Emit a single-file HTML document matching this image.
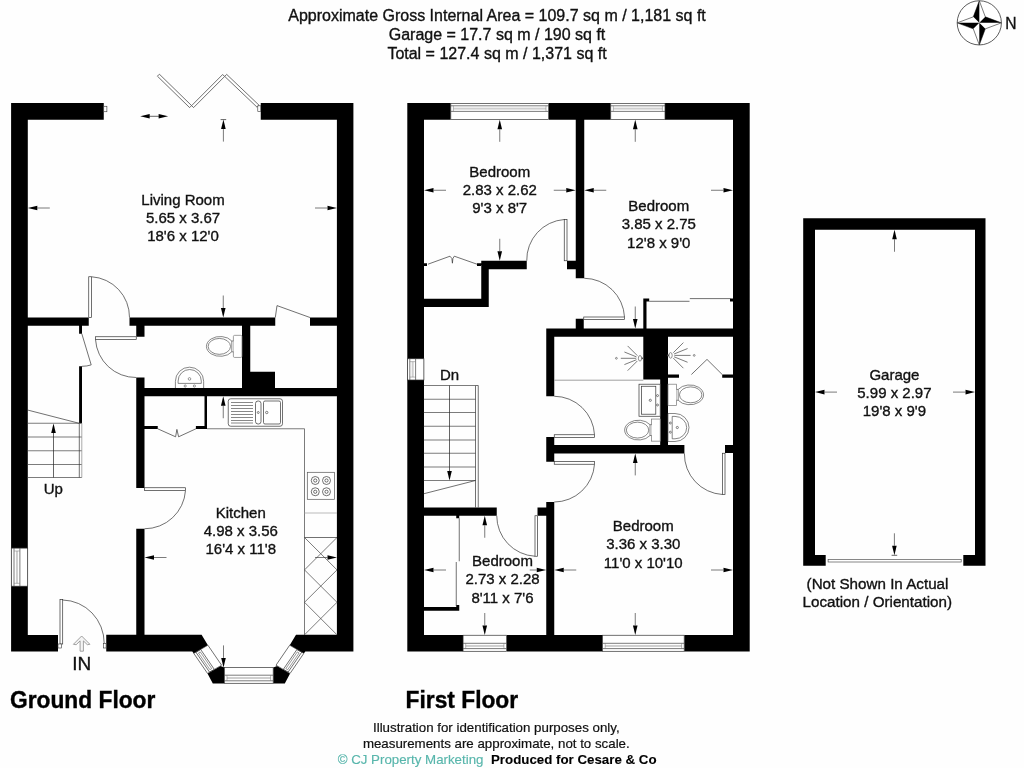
<!DOCTYPE html>
<html><head><meta charset="utf-8"><title>Floor plan</title>
<style>
html,body{margin:0;padding:0;background:#fff;}
body{width:1024px;height:768px;overflow:hidden;font-family:"Liberation Sans",sans-serif;}
svg{display:block;will-change:transform;}
svg text{font-family:"Liberation Sans",sans-serif;}
</style></head><body>
<svg width="1024" height="768" viewBox="0 0 1024 768">
<rect width="1024" height="768" fill="#fefefe"/>
<g id="header">
<text x="497.00" y="20.60" font-size="16" text-anchor="middle" font-weight="normal" fill="#111" stroke="#111" stroke-width="0.35">Approximate Gross Internal Area = 109.7 sq m / 1,181 sq ft</text>
<text x="497.00" y="39.60" font-size="16" text-anchor="middle" font-weight="normal" fill="#111" stroke="#111" stroke-width="0.35">Garage = 17.7 sq m / 190 sq ft</text>
<text x="497.00" y="59.10" font-size="16" text-anchor="middle" font-weight="normal" fill="#111" stroke="#111" stroke-width="0.35">Total = 127.4 sq m / 1,371 sq ft</text>
</g>
<g id="compass">
<circle cx="979.3" cy="22.85" r="22.1" fill="#fff" stroke="#333" stroke-width="0.8"/>
<polygon points="979.30,0.75 985.30,16.85 1001.40,22.85 985.30,28.85 979.30,44.95 973.30,28.85 957.20,22.85 973.30,16.85" fill="#fff" stroke="#222" stroke-width="0.6"/>
<polygon points="979.30,22.85 979.30,0.75 973.30,16.85" fill="#000"/>
<polygon points="979.30,22.85 1001.40,22.85 985.30,16.85" fill="#000"/>
<polygon points="979.30,22.85 979.30,44.95 985.30,28.85" fill="#000"/>
<polygon points="979.30,22.85 957.20,22.85 973.30,28.85" fill="#000"/>
<text x="1005.30" y="28.75" font-size="15.6" text-anchor="start" font-weight="normal" fill="#111" stroke="#111" stroke-width="0.35">N</text>
</g>
<g id="ground">
<path fill="#000" d="M11.10,103.10H103.75V119.80H11.10ZM11.10,103.10H27.80V651.50H11.10ZM260.75,103.10H353.40V119.80H260.75ZM336.90,103.10H353.40V651.50H336.90ZM11.10,634.90H58.00V651.50H11.10ZM106.25,634.80L201.60,634.80L207.90,645.20L193.80,653.40L192.25,651.50L106.25,651.50ZM353.25,651.50L305.35,651.50L303.80,653.40L289.70,645.20L296.00,634.80L353.25,634.80ZM220.40,665.90L224.40,667.40L224.40,683.60L212.80,683.60L207.50,673.40ZM290.10,673.40L284.80,683.60L273.20,683.60L273.20,667.40L277.20,665.90ZM27.50,317.50H88.75V325.75H27.50ZM129.50,317.50H275.25V325.75H129.50ZM310.00,317.50H337.00V325.75H310.00ZM79.10,325.75H82.00V333.80H79.10ZM79.10,366.20H82.00V423.25H79.10ZM136.25,325.75H144.50V336.75H136.25ZM136.25,377.50H144.50V488.00H136.25ZM136.25,528.75H144.50V634.80H136.25ZM136.25,388.00H337.00V396.25H136.25ZM242.00,325.75H250.25V388.50H242.00ZM249.00,371.75H275.00V388.50H249.00ZM204.50,396.25H207.00V428.75H204.50ZM144.50,426.00H157.75V429.00H144.50ZM195.90,426.00H207.00V429.00H195.90Z"/>
</g>
<g id="ground-details">
<rect x="11.30" y="548.10" width="16.40" height="38.10" fill="#fff" stroke="#333" stroke-width="0.7" rx="0"/>
<line x1="14.00" y1="548.10" x2="14.00" y2="586.20" stroke="#444" stroke-width="0.7"/>
<line x1="19.90" y1="548.10" x2="19.90" y2="586.20" stroke="#444" stroke-width="0.7"/>
<rect x="15.95" y="551.00" width="2.00" height="32.30" fill="#cfcfcf"/>
<line x1="14.00" y1="551.00" x2="19.90" y2="551.00" stroke="#777" stroke-width="0.5"/>
<line x1="14.00" y1="583.30" x2="19.90" y2="583.30" stroke="#777" stroke-width="0.5"/>
<polygon points="159.38,74.20 191.58,105.60 189.62,107.60 157.42,76.20" fill="#fff" stroke="#333" stroke-width="0.7"/>
<polygon points="191.61,105.61 222.66,74.51 224.64,76.49 193.59,107.59" fill="#fff" stroke="#333" stroke-width="0.7"/>
<polygon points="226.67,74.39 259.02,105.19 257.08,107.21 224.73,76.41" fill="#fff" stroke="#333" stroke-width="0.7"/>
<rect x="103.75" y="106.25" width="3.15" height="5.50" fill="#fff" stroke="#333" stroke-width="0.6" rx="0"/>
<rect x="257.80" y="105.80" width="2.95" height="5.70" fill="#fff" stroke="#333" stroke-width="0.6" rx="0"/>
<rect x="88.75" y="276.75" width="2.75" height="40.75" fill="#fff" stroke="#333" stroke-width="0.7" rx="0"/>
<path d="M91.5,276.75 A40.5,40.5 0 0 1 129.5,317.5" fill="none" stroke="#333" stroke-width="0.7"/>
<rect x="95.50" y="336.75" width="40.75" height="2.75" fill="#fff" stroke="#333" stroke-width="0.7" rx="0"/>
<path d="M95.5,339.5 A40.5,40.5 0 0 0 136.25,377.5" fill="none" stroke="#333" stroke-width="0.7"/>
<line x1="81.80" y1="333.70" x2="91.20" y2="364.90" stroke="#333" stroke-width="0.7"/>
<path d="M91.2,364.9 Q87,366.3 82,366.3" fill="none" stroke="#333" stroke-width="0.7"/>
<polyline points="275.30,317.50 277.00,305.60 310.00,317.50" fill="none" stroke="#333" stroke-width="0.7"/>
<polyline points="27.50,410.00 79.00,423.25" fill="none" stroke="#333" stroke-width="0.7"/>
<line x1="27.50" y1="423.25" x2="81.80" y2="423.25" stroke="#444" stroke-width="0.7"/>
<line x1="27.50" y1="437.00" x2="81.80" y2="437.00" stroke="#444" stroke-width="0.7"/>
<line x1="27.50" y1="450.75" x2="81.80" y2="450.75" stroke="#444" stroke-width="0.7"/>
<line x1="27.50" y1="464.50" x2="81.80" y2="464.50" stroke="#444" stroke-width="0.7"/>
<line x1="27.50" y1="477.50" x2="81.80" y2="477.50" stroke="#444" stroke-width="0.7"/>
<line x1="79.30" y1="423.25" x2="79.30" y2="477.50" stroke="#333" stroke-width="0.7"/>
<line x1="81.80" y1="423.25" x2="81.80" y2="477.50" stroke="#888" stroke-width="0.7"/>
<line x1="53.50" y1="432.00" x2="53.50" y2="477.50" stroke="#222" stroke-width="0.7"/>
<polygon points="53.50,423.60 51.20,433.00 55.80,433.00" fill="#000"/>
<rect x="233.40" y="335.35" width="8.60" height="22.10" fill="#fff" stroke="#777" stroke-width="0.7" rx="1.2"/>
<path d="M233.40,341.00 L231.80,341.00 A13.8,9.9 0 1 0 231.80,351.80 L233.40,351.80" fill="#fff" stroke="#555" stroke-width="0.7"/>
<line x1="231.80" y1="341.00" x2="231.80" y2="351.80" stroke="#555" stroke-width="0.7"/>
<ellipse cx="219.34" cy="346.40" rx="11.2" ry="7.95" fill="none" stroke="#555" stroke-width="0.7"/>
<path d="M175.4,388 L175.4,381.3 A14.1,14.1 0 0 1 203.65,381.3 L203.65,388" fill="#fff" stroke="#555" stroke-width="0.7"/>
<path d="M178.1,383.4 L178.1,381.1 A11.6,11.6 0 0 1 201.3,381.1 L201.3,383.4 Z" fill="none" stroke="#555" stroke-width="0.7"/>
<circle cx="189.5" cy="378.9" r="1.3" fill="none" stroke="#555" stroke-width="0.6"/>
<circle cx="185.2" cy="386" r="1.1" fill="none" stroke="#555" stroke-width="0.6"/>
<circle cx="194.4" cy="386" r="1.1" fill="none" stroke="#555" stroke-width="0.6"/>
<polyline points="157.75,428.80 175.60,436.80 176.90,429.40 178.60,436.80 195.90,428.80" fill="none" stroke="#333" stroke-width="0.7"/>
<polyline points="207.00,428.75 304.50,428.75 304.50,634.80" fill="none" stroke="#444" stroke-width="0.7"/>
<rect x="228.25" y="398.75" width="54.25" height="27.50" fill="#fff" stroke="#333" stroke-width="0.7" rx="2.5"/>
<rect x="263.50" y="401.00" width="17.00" height="23.00" fill="#fff" stroke="#333" stroke-width="0.7" rx="1.5"/>
<rect x="255.50" y="401.00" width="5.50" height="23.00" fill="#fff" stroke="#333" stroke-width="0.7" rx="2.5"/>
<line x1="231.00" y1="402.50" x2="253.00" y2="402.50" stroke="#555" stroke-width="0.7"/>
<line x1="231.00" y1="405.50" x2="253.00" y2="405.50" stroke="#555" stroke-width="0.7"/>
<line x1="231.00" y1="408.50" x2="253.00" y2="408.50" stroke="#555" stroke-width="0.7"/>
<line x1="231.00" y1="411.50" x2="253.00" y2="411.50" stroke="#555" stroke-width="0.7"/>
<line x1="231.00" y1="414.50" x2="253.00" y2="414.50" stroke="#555" stroke-width="0.7"/>
<line x1="231.00" y1="417.50" x2="253.00" y2="417.50" stroke="#555" stroke-width="0.7"/>
<line x1="231.00" y1="420.50" x2="253.00" y2="420.50" stroke="#555" stroke-width="0.7"/>
<line x1="231.00" y1="423.00" x2="253.00" y2="423.00" stroke="#555" stroke-width="0.7"/>
<circle cx="258.25" cy="412.5" r="1" fill="none" stroke="#333" stroke-width="0.6"/>
<circle cx="266.75" cy="412.5" r="1.2" fill="none" stroke="#333" stroke-width="0.6"/>
<rect x="307.30" y="472.30" width="27.10" height="27.00" fill="#fff" stroke="#555" stroke-width="0.7" rx="0"/>
<circle cx="315.25" cy="480.5" r="4" fill="none" stroke="#333" stroke-width="0.7"/>
<circle cx="315.25" cy="480.5" r="1.6" fill="none" stroke="#333" stroke-width="0.7"/>
<circle cx="315.25" cy="491.75" r="4" fill="none" stroke="#333" stroke-width="0.7"/>
<circle cx="315.25" cy="491.75" r="1.6" fill="none" stroke="#333" stroke-width="0.7"/>
<circle cx="326.5" cy="480.5" r="4" fill="none" stroke="#333" stroke-width="0.7"/>
<circle cx="326.5" cy="480.5" r="1.6" fill="none" stroke="#333" stroke-width="0.7"/>
<circle cx="326.5" cy="491.75" r="4" fill="none" stroke="#333" stroke-width="0.7"/>
<circle cx="326.5" cy="491.75" r="1.6" fill="none" stroke="#333" stroke-width="0.7"/>
<line x1="304.50" y1="513.00" x2="337.00" y2="513.00" stroke="#aaa" stroke-width="0.8"/>
<line x1="304.50" y1="537.50" x2="337.00" y2="537.50" stroke="#333" stroke-width="0.7"/>
<line x1="304.50" y1="537.50" x2="337.00" y2="569.90" stroke="#444" stroke-width="0.7"/>
<line x1="337.00" y1="537.50" x2="304.50" y2="569.90" stroke="#444" stroke-width="0.7"/>
<line x1="304.50" y1="569.90" x2="337.00" y2="602.30" stroke="#444" stroke-width="0.7"/>
<line x1="337.00" y1="569.90" x2="304.50" y2="602.30" stroke="#444" stroke-width="0.7"/>
<line x1="304.50" y1="602.30" x2="337.00" y2="634.80" stroke="#444" stroke-width="0.7"/>
<line x1="337.00" y1="602.30" x2="304.50" y2="634.80" stroke="#444" stroke-width="0.7"/>
<rect x="144.50" y="487.75" width="41.00" height="2.75" fill="#fff" stroke="#333" stroke-width="0.7" rx="0"/>
<path d="M185.5,490.5 A41,41 0 0 1 144.5,528.75" fill="none" stroke="#333" stroke-width="0.7"/>
<rect x="60.00" y="599.40" width="2.70" height="44.60" fill="#fff" stroke="#333" stroke-width="0.7" rx="0"/>
<path d="M62.7,600 A42.5,43.3 0 0 1 104.2,643.3" fill="none" stroke="#333" stroke-width="0.7"/>
<rect x="58.00" y="644.00" width="3.50" height="4.00" fill="#fff" stroke="#333" stroke-width="0.6" rx="0"/>
<rect x="103.30" y="643.30" width="2.80" height="4.70" fill="#fff" stroke="#333" stroke-width="0.6" rx="0"/>
<polygon points="81.65,636.00 89.90,644.30 87.30,644.70 83.40,640.90 83.40,651.20 80.10,651.20 80.10,640.90 76.20,644.70 73.40,644.30" fill="#f4f4f4" stroke="#8a8a8a" stroke-width="0.8"/>
<rect x="224.40" y="667.40" width="48.80" height="15.90" fill="#fff" stroke="#333" stroke-width="0.7" rx="0"/>
<line x1="224.40" y1="675.20" x2="273.20" y2="675.20" stroke="#444" stroke-width="0.7"/>
<line x1="224.40" y1="680.80" x2="273.20" y2="680.80" stroke="#444" stroke-width="0.7"/>
<rect x="227.00" y="677.00" width="43.60" height="2.00" fill="#cfcfcf"/>
<line x1="227.00" y1="675.20" x2="227.00" y2="680.80" stroke="#777" stroke-width="0.5"/>
<line x1="270.60" y1="675.20" x2="270.60" y2="680.80" stroke="#777" stroke-width="0.5"/>
<polygon points="193.80,653.40 207.50,673.40 221.60,665.20 207.90,645.20" fill="#fff" stroke="#333" stroke-width="0.7"/>
<polygon points="195.88,652.19 209.57,672.19 214.33,669.42 200.63,649.43" fill="none" stroke="#333" stroke-width="0.7"/>
<polygon points="198.48,652.99 209.91,669.69 211.73,668.63 200.29,651.93" fill="none" stroke="#555" stroke-width="0.6"/>
<polygon points="303.80,653.40 290.10,673.40 276.00,665.20 289.70,645.20" fill="#fff" stroke="#333" stroke-width="0.7"/>
<polygon points="301.72,652.19 288.03,672.19 283.27,669.42 296.97,649.43" fill="none" stroke="#333" stroke-width="0.7"/>
<polygon points="299.12,652.99 287.69,669.69 285.87,668.63 297.31,651.93" fill="none" stroke="#555" stroke-width="0.6"/>
</g>
<g id="ground-arrows">
<polygon points="27.80,208.00 37.30,205.70 37.30,210.30" fill="#000"/>
<line x1="37.30" y1="208.00" x2="49.80" y2="208.00" stroke="#333" stroke-width="0.65"/>
<polygon points="337.00,208.00 327.50,210.30 327.50,205.70" fill="#000"/>
<line x1="327.50" y1="208.00" x2="315.00" y2="208.00" stroke="#333" stroke-width="0.65"/>
<polygon points="223.40,119.60 225.70,129.10 221.10,129.10" fill="#000"/>
<line x1="223.40" y1="129.10" x2="223.40" y2="141.60" stroke="#333" stroke-width="0.65"/>
<line x1="226.20" y1="119.60" x2="220.60" y2="119.60" stroke="#222" stroke-width="0.7"/>
<polygon points="223.25,317.50 220.95,308.00 225.55,308.00" fill="#000"/>
<line x1="223.25" y1="308.00" x2="223.25" y2="295.50" stroke="#333" stroke-width="0.65"/>
<polygon points="140.20,116.30 149.70,114.00 149.70,118.60" fill="#000"/>
<polygon points="168.10,116.30 158.60,114.00 158.60,118.60" fill="#000"/>
<line x1="149.00" y1="116.30" x2="159.00" y2="116.30" stroke="#222" stroke-width="0.7"/>
<polygon points="223.25,396.25 225.55,405.75 220.95,405.75" fill="#000"/>
<line x1="223.25" y1="405.75" x2="223.25" y2="418.25" stroke="#333" stroke-width="0.65"/>
<polygon points="223.50,667.40 221.20,657.90 225.80,657.90" fill="#000"/>
<line x1="223.50" y1="657.90" x2="223.50" y2="645.40" stroke="#333" stroke-width="0.65"/>
<polygon points="144.50,557.50 154.00,555.20 154.00,559.80" fill="#000"/>
<line x1="154.00" y1="557.50" x2="166.50" y2="557.50" stroke="#333" stroke-width="0.65"/>
<polygon points="337.00,557.50 327.50,559.80 327.50,555.20" fill="#000"/>
<line x1="327.50" y1="557.50" x2="315.00" y2="557.50" stroke="#333" stroke-width="0.65"/>
</g>
<g id="ground-text">
<text x="183.00" y="205.00" font-size="15" text-anchor="middle" font-weight="normal" fill="#111" stroke="#111" stroke-width="0.35">Living Room</text>
<text x="183.00" y="223.20" font-size="15" text-anchor="middle" font-weight="normal" fill="#111" stroke="#111" stroke-width="0.35">5.65 x 3.67</text>
<text x="183.00" y="241.40" font-size="15" text-anchor="middle" font-weight="normal" fill="#111" stroke="#111" stroke-width="0.35">18'6 x 12'0</text>
<text x="240.75" y="517.50" font-size="15" text-anchor="middle" font-weight="normal" fill="#111" stroke="#111" stroke-width="0.35">Kitchen</text>
<text x="240.75" y="535.70" font-size="15" text-anchor="middle" font-weight="normal" fill="#111" stroke="#111" stroke-width="0.35">4.98 x 3.56</text>
<text x="240.75" y="553.90" font-size="15" text-anchor="middle" font-weight="normal" fill="#111" stroke="#111" stroke-width="0.35">16'4 x 11'8</text>
<text x="53.25" y="493.75" font-size="15" text-anchor="middle" font-weight="normal" fill="#111" stroke="#111" stroke-width="0.35">Up</text>
<text x="81.80" y="670.30" font-size="19" text-anchor="middle" font-weight="normal" fill="#111" stroke="#111" stroke-width="0.35">IN</text>
<text transform="translate(10,707.9) scale(1.008,1.043)" font-size="22.6" font-weight="bold" fill="#000" stroke="#000" stroke-width="0.35">Ground Floor</text>
</g>
<g id="first">
<path fill="#000" d="M407.30,103.10H450.75V119.80H407.30ZM548.75,103.10H610.75V119.80H548.75ZM665.00,103.10H749.70V119.80H665.00ZM407.30,103.10H424.00V651.50H407.30ZM733.00,103.10H749.70V651.50H733.00ZM407.30,635.00H463.00V651.50H407.30ZM506.75,635.00H602.50V651.50H506.75ZM684.25,635.00H749.70V651.50H684.25ZM575.75,119.50H584.25V278.25H575.75ZM481.25,260.75H526.75V269.25H481.25ZM567.00,260.75H575.75V269.25H567.00ZM481.25,260.75H488.75V307.00H481.25ZM423.75,298.75H488.75V307.00H423.75ZM575.75,318.75H583.75V328.75H575.75ZM546.25,328.50H733.00V336.75H546.25ZM546.25,328.50H554.25V396.25H546.25ZM643.30,298.40H646.50V328.50H643.30ZM643.30,298.40H649.20V301.40H643.30ZM730.00,298.60H733.00V301.50H730.00ZM643.30,336.75H668.00V379.50H643.30ZM660.20,379.50H668.00V445.20H660.20ZM668.00,374.50H679.00V377.70H668.00ZM722.20,374.50H733.00V377.70H722.20ZM554.25,445.00H684.40V453.40H554.25ZM546.25,437.00H554.25V461.75H546.25ZM725.00,445.00H733.00V453.00H725.00ZM546.25,502.00H554.25V635.00H546.25ZM423.75,507.50H496.75V515.75H423.75ZM537.50,507.50H546.25V515.75H537.50ZM456.25,515.75H459.25V518.25H456.25ZM423.75,607.00H459.25V610.75H423.75ZM456.25,605.00H459.25V610.75H456.25ZM423.75,263.30H427.00V266.00H423.75ZM477.00,263.30H481.25V266.00H477.00Z"/>
</g>
<g id="first-details">
<rect x="450.80" y="103.35" width="97.80" height="16.30" fill="#fff" stroke="#333" stroke-width="0.7" rx="0"/>
<line x1="450.80" y1="105.80" x2="548.60" y2="105.80" stroke="#444" stroke-width="0.7"/>
<line x1="450.80" y1="111.40" x2="548.60" y2="111.40" stroke="#444" stroke-width="0.7"/>
<rect x="453.40" y="107.60" width="92.60" height="2.00" fill="#cfcfcf"/>
<line x1="453.40" y1="105.80" x2="453.40" y2="111.40" stroke="#777" stroke-width="0.5"/>
<line x1="546.00" y1="105.80" x2="546.00" y2="111.40" stroke="#777" stroke-width="0.5"/>
<rect x="610.75" y="103.35" width="54.25" height="16.30" fill="#fff" stroke="#333" stroke-width="0.7" rx="0"/>
<line x1="610.75" y1="105.80" x2="665.00" y2="105.80" stroke="#444" stroke-width="0.7"/>
<line x1="610.75" y1="111.40" x2="665.00" y2="111.40" stroke="#444" stroke-width="0.7"/>
<rect x="613.35" y="107.60" width="49.05" height="2.00" fill="#cfcfcf"/>
<line x1="613.35" y1="105.80" x2="613.35" y2="111.40" stroke="#777" stroke-width="0.5"/>
<line x1="662.40" y1="105.80" x2="662.40" y2="111.40" stroke="#777" stroke-width="0.5"/>
<rect x="463.10" y="635.25" width="43.40" height="16.05" fill="#fff" stroke="#333" stroke-width="0.7" rx="0"/>
<line x1="463.10" y1="643.30" x2="506.50" y2="643.30" stroke="#444" stroke-width="0.7"/>
<line x1="463.10" y1="648.60" x2="506.50" y2="648.60" stroke="#444" stroke-width="0.7"/>
<rect x="465.70" y="644.95" width="38.20" height="2.00" fill="#cfcfcf"/>
<line x1="465.70" y1="643.30" x2="465.70" y2="648.60" stroke="#777" stroke-width="0.5"/>
<line x1="503.90" y1="643.30" x2="503.90" y2="648.60" stroke="#777" stroke-width="0.5"/>
<rect x="602.60" y="635.25" width="81.60" height="16.05" fill="#fff" stroke="#333" stroke-width="0.7" rx="0"/>
<line x1="602.60" y1="643.30" x2="684.20" y2="643.30" stroke="#444" stroke-width="0.7"/>
<line x1="602.60" y1="648.60" x2="684.20" y2="648.60" stroke="#444" stroke-width="0.7"/>
<rect x="605.20" y="644.95" width="76.40" height="2.00" fill="#cfcfcf"/>
<line x1="605.20" y1="643.30" x2="605.20" y2="648.60" stroke="#777" stroke-width="0.5"/>
<line x1="681.60" y1="643.30" x2="681.60" y2="648.60" stroke="#777" stroke-width="0.5"/>
<rect x="407.50" y="358.75" width="16.40" height="21.25" fill="#fff" stroke="#333" stroke-width="0.7" rx="0"/>
<line x1="409.80" y1="358.75" x2="409.80" y2="380.00" stroke="#444" stroke-width="0.7"/>
<line x1="415.60" y1="358.75" x2="415.60" y2="380.00" stroke="#444" stroke-width="0.7"/>
<rect x="411.70" y="361.65" width="2.00" height="15.45" fill="#cfcfcf"/>
<line x1="409.80" y1="361.65" x2="415.60" y2="361.65" stroke="#777" stroke-width="0.5"/>
<line x1="409.80" y1="377.10" x2="415.60" y2="377.10" stroke="#777" stroke-width="0.5"/>
<polyline points="428.00,264.20 450.00,256.20 451.90,258.50 452.40,263.20" fill="none" stroke="#333" stroke-width="0.7"/>
<polyline points="477.00,264.20 454.30,256.20 452.90,258.50 452.40,263.20" fill="none" stroke="#333" stroke-width="0.7"/>
<rect x="564.25" y="219.50" width="2.75" height="41.25" fill="#fff" stroke="#333" stroke-width="0.7" rx="0"/>
<path d="M564.25,219.5 A40.5,40.5 0 0 0 526.75,260.75" fill="none" stroke="#333" stroke-width="0.7"/>
<rect x="583.75" y="317.00" width="40.75" height="2.50" fill="#fff" stroke="#333" stroke-width="0.7" rx="0"/>
<path d="M584.25,278.25 A40.75,40.75 0 0 1 624.5,317" fill="none" stroke="#333" stroke-width="0.7"/>
<line x1="649.20" y1="301.30" x2="689.50" y2="301.30" stroke="#333" stroke-width="0.7"/>
<line x1="689.80" y1="298.60" x2="730.50" y2="298.60" stroke="#333" stroke-width="0.7"/>
<line x1="554.25" y1="380.20" x2="643.30" y2="380.20" stroke="#888" stroke-width="0.8"/>
<line x1="423.75" y1="385.50" x2="475.50" y2="385.50" stroke="#444" stroke-width="0.7"/>
<line x1="423.75" y1="399.25" x2="475.50" y2="399.25" stroke="#444" stroke-width="0.7"/>
<line x1="423.75" y1="412.50" x2="475.50" y2="412.50" stroke="#444" stroke-width="0.7"/>
<line x1="423.75" y1="426.25" x2="475.50" y2="426.25" stroke="#444" stroke-width="0.7"/>
<line x1="423.75" y1="440.00" x2="475.50" y2="440.00" stroke="#444" stroke-width="0.7"/>
<line x1="423.75" y1="453.25" x2="475.50" y2="453.25" stroke="#444" stroke-width="0.7"/>
<line x1="423.75" y1="467.00" x2="475.50" y2="467.00" stroke="#444" stroke-width="0.7"/>
<line x1="423.75" y1="480.50" x2="475.50" y2="480.50" stroke="#444" stroke-width="0.7"/>
<line x1="475.50" y1="385.50" x2="475.50" y2="507.50" stroke="#333" stroke-width="0.7"/>
<line x1="478.25" y1="385.50" x2="478.25" y2="507.50" stroke="#333" stroke-width="0.7"/>
<line x1="475.50" y1="385.50" x2="478.25" y2="385.50" stroke="#333" stroke-width="0.7"/>
<line x1="423.75" y1="493.75" x2="475.50" y2="480.50" stroke="#333" stroke-width="0.7"/>
<line x1="449.50" y1="385.50" x2="449.50" y2="472.00" stroke="#222" stroke-width="0.7"/>
<polygon points="449.50,480.50 447.20,471.00 451.80,471.00" fill="#000"/>
<rect x="554.25" y="434.75" width="40.25" height="2.75" fill="#fff" stroke="#333" stroke-width="0.7" rx="0"/>
<path d="M554.25,396.25 A40.5,40.5 0 0 1 594.5,434.75" fill="none" stroke="#333" stroke-width="0.7"/>
<rect x="554.25" y="461.50" width="40.25" height="2.75" fill="#fff" stroke="#333" stroke-width="0.7" rx="0"/>
<path d="M594.5,464.25 A40.5,40.5 0 0 1 554.25,502" fill="none" stroke="#333" stroke-width="0.7"/>
<rect x="535.00" y="515.75" width="2.50" height="40.50" fill="#fff" stroke="#333" stroke-width="0.7" rx="0"/>
<path d="M496.75,515.75 A40.5,40.5 0 0 0 535,556.25" fill="none" stroke="#333" stroke-width="0.7"/>
<rect x="722.50" y="453.25" width="2.50" height="41.25" fill="#fff" stroke="#333" stroke-width="0.7" rx="0"/>
<path d="M684.4,453.4 A40.5,40.5 0 0 0 722.5,494.5" fill="none" stroke="#333" stroke-width="0.7"/>
<line x1="459.25" y1="518.25" x2="459.25" y2="561.25" stroke="#333" stroke-width="0.7"/>
<line x1="456.25" y1="562.00" x2="456.25" y2="606.00" stroke="#333" stroke-width="0.7"/>
<polyline points="691.40,374.50 707.00,359.40 722.20,374.50" fill="none" stroke="#333" stroke-width="0.7"/>
<ellipse cx="640" cy="358.3" rx="1.6" ry="2.8" fill="#fff" stroke="#444" stroke-width="0.6"/>
<line x1="641.60" y1="358.30" x2="643.40" y2="358.30" stroke="#555" stroke-width="1.6"/>
<line x1="637.31" y1="355.61" x2="627.63" y2="345.93" stroke="#444" stroke-width="0.7"/>
<line x1="636.48" y1="356.88" x2="624.42" y2="352.01" stroke="#444" stroke-width="0.7"/>
<line x1="636.20" y1="358.30" x2="620.80" y2="358.30" stroke="#444" stroke-width="0.7"/>
<line x1="636.48" y1="359.72" x2="624.42" y2="364.59" stroke="#444" stroke-width="0.7"/>
<line x1="637.31" y1="360.99" x2="627.63" y2="370.67" stroke="#444" stroke-width="0.7"/>
<circle cx="616.4" cy="358.3" r="0.9" fill="none" stroke="#444" stroke-width="0.6"/>
<ellipse cx="670.6" cy="355.4" rx="1.6" ry="2.8" fill="#fff" stroke="#444" stroke-width="0.6"/>
<line x1="669.00" y1="355.40" x2="667.20" y2="355.40" stroke="#555" stroke-width="1.6"/>
<line x1="673.29" y1="352.71" x2="683.40" y2="342.60" stroke="#444" stroke-width="0.7"/>
<line x1="674.12" y1="353.98" x2="687.57" y2="348.54" stroke="#444" stroke-width="0.7"/>
<line x1="674.40" y1="355.40" x2="690.60" y2="355.40" stroke="#444" stroke-width="0.7"/>
<line x1="674.12" y1="356.82" x2="687.57" y2="362.26" stroke="#444" stroke-width="0.7"/>
<line x1="673.29" y1="358.09" x2="683.40" y2="368.20" stroke="#444" stroke-width="0.7"/>
<circle cx="694.2" cy="355.4" r="0.9" fill="none" stroke="#444" stroke-width="0.6"/>
<rect x="639.00" y="384.20" width="21.20" height="32.05" fill="#fff" stroke="#333" stroke-width="0.7" rx="0"/>
<rect x="641.40" y="386.25" width="14.40" height="27.95" fill="#fff" stroke="#333" stroke-width="0.7" rx="0"/>
<circle cx="650.3" cy="400.3" r="1.1" fill="none" stroke="#333" stroke-width="0.6"/>
<circle cx="657.5" cy="395.6" r="1" fill="none" stroke="#333" stroke-width="0.6"/>
<circle cx="657.5" cy="405" r="1" fill="none" stroke="#333" stroke-width="0.6"/>
<rect x="651.60" y="419.05" width="8.60" height="22.10" fill="#fff" stroke="#777" stroke-width="0.7" rx="0"/>
<path d="M651.60,424.70 L650.00,424.70 A13.8,9.9 0 1 0 650.00,435.50 L651.60,435.50" fill="#fff" stroke="#555" stroke-width="0.7"/>
<line x1="650.00" y1="424.70" x2="650.00" y2="435.50" stroke="#555" stroke-width="0.7"/>
<ellipse cx="637.54" cy="430.10" rx="11.2" ry="7.95" fill="none" stroke="#555" stroke-width="0.7"/>
<rect x="668.00" y="384.20" width="8.60" height="21.30" fill="#fff" stroke="#777" stroke-width="0.7" rx="0"/>
<path d="M676.60,389.45 L678.20,389.45 A13.8,9.9 0 1 1 678.20,400.25 L676.60,400.25" fill="#fff" stroke="#555" stroke-width="0.7"/>
<line x1="678.20" y1="389.45" x2="678.20" y2="400.25" stroke="#555" stroke-width="0.7"/>
<ellipse cx="690.66" cy="394.85" rx="11.2" ry="7.95" fill="none" stroke="#555" stroke-width="0.7"/>
<path d="M668,413.5 L675,413.5 A14,14.0 0 0 1 675,441.5 L668,441.5 Z" fill="#fff" stroke="#555" stroke-width="0.7"/>
<path d="M672.2,416.4 L675,416.4 A11.7,11.2 0 0 1 675,438.8 L672.2,438.8 Z" fill="none" stroke="#555" stroke-width="0.7"/>
<circle cx="677.3" cy="427.5" r="1.1" fill="none" stroke="#333" stroke-width="0.6"/>
<circle cx="670.3" cy="423" r="1" fill="none" stroke="#333" stroke-width="0.6"/>
<circle cx="670.3" cy="432.2" r="1" fill="none" stroke="#333" stroke-width="0.6"/>
</g>
<g id="first-arrows">
<polygon points="499.75,119.80 502.05,129.30 497.45,129.30" fill="#000"/>
<line x1="499.75" y1="129.30" x2="499.75" y2="141.80" stroke="#333" stroke-width="0.65"/>
<polygon points="635.25,119.80 637.55,129.30 632.95,129.30" fill="#000"/>
<line x1="635.25" y1="129.30" x2="635.25" y2="141.80" stroke="#333" stroke-width="0.65"/>
<polygon points="424.00,190.25 433.50,187.95 433.50,192.55" fill="#000"/>
<line x1="433.50" y1="190.25" x2="446.00" y2="190.25" stroke="#333" stroke-width="0.65"/>
<polygon points="575.75,190.25 566.25,192.55 566.25,187.95" fill="#000"/>
<line x1="566.25" y1="190.25" x2="553.75" y2="190.25" stroke="#333" stroke-width="0.65"/>
<polygon points="584.25,190.25 593.75,187.95 593.75,192.55" fill="#000"/>
<line x1="593.75" y1="190.25" x2="606.25" y2="190.25" stroke="#333" stroke-width="0.65"/>
<polygon points="733.00,190.25 723.50,192.55 723.50,187.95" fill="#000"/>
<line x1="723.50" y1="190.25" x2="711.00" y2="190.25" stroke="#333" stroke-width="0.65"/>
<polygon points="499.75,260.75 497.45,251.25 502.05,251.25" fill="#000"/>
<line x1="499.75" y1="251.25" x2="499.75" y2="238.75" stroke="#333" stroke-width="0.65"/>
<polygon points="635.25,328.50 632.95,319.00 637.55,319.00" fill="#000"/>
<line x1="635.25" y1="319.00" x2="635.25" y2="306.50" stroke="#333" stroke-width="0.65"/>
<polygon points="635.25,453.40 637.55,462.90 632.95,462.90" fill="#000"/>
<line x1="635.25" y1="462.90" x2="635.25" y2="475.40" stroke="#333" stroke-width="0.65"/>
<polygon points="484.75,515.75 487.05,525.25 482.45,525.25" fill="#000"/>
<line x1="484.75" y1="525.25" x2="484.75" y2="537.75" stroke="#333" stroke-width="0.65"/>
<polygon points="424.00,570.00 433.50,567.70 433.50,572.30" fill="#000"/>
<line x1="433.50" y1="570.00" x2="446.00" y2="570.00" stroke="#333" stroke-width="0.65"/>
<polygon points="546.25,570.00 536.75,572.30 536.75,567.70" fill="#000"/>
<line x1="536.75" y1="570.00" x2="529.75" y2="570.00" stroke="#333" stroke-width="0.65"/>
<polygon points="554.25,570.00 563.75,567.70 563.75,572.30" fill="#000"/>
<line x1="563.75" y1="570.00" x2="576.25" y2="570.00" stroke="#333" stroke-width="0.65"/>
<polygon points="733.00,570.00 723.50,572.30 723.50,567.70" fill="#000"/>
<line x1="723.50" y1="570.00" x2="711.00" y2="570.00" stroke="#333" stroke-width="0.65"/>
<polygon points="484.75,635.00 482.45,625.50 487.05,625.50" fill="#000"/>
<line x1="484.75" y1="625.50" x2="484.75" y2="613.00" stroke="#333" stroke-width="0.65"/>
<polygon points="635.25,635.00 632.95,625.50 637.55,625.50" fill="#000"/>
<line x1="635.25" y1="625.50" x2="635.25" y2="613.00" stroke="#333" stroke-width="0.65"/>
</g>
<g id="first-text">
<text x="499.75" y="177.00" font-size="15" text-anchor="middle" font-weight="normal" fill="#111" stroke="#111" stroke-width="0.35">Bedroom</text>
<text x="499.75" y="195.20" font-size="15" text-anchor="middle" font-weight="normal" fill="#111" stroke="#111" stroke-width="0.35">2.83 x 2.62</text>
<text x="499.75" y="213.40" font-size="15" text-anchor="middle" font-weight="normal" fill="#111" stroke="#111" stroke-width="0.35">9'3 x 8'7</text>
<text x="658.75" y="211.25" font-size="15" text-anchor="middle" font-weight="normal" fill="#111" stroke="#111" stroke-width="0.35">Bedroom</text>
<text x="658.75" y="229.45" font-size="15" text-anchor="middle" font-weight="normal" fill="#111" stroke="#111" stroke-width="0.35">3.85 x 2.75</text>
<text x="658.75" y="247.65" font-size="15" text-anchor="middle" font-weight="normal" fill="#111" stroke="#111" stroke-width="0.35">12'8 x 9'0</text>
<text x="643.25" y="531.25" font-size="15" text-anchor="middle" font-weight="normal" fill="#111" stroke="#111" stroke-width="0.35">Bedroom</text>
<text x="643.25" y="549.45" font-size="15" text-anchor="middle" font-weight="normal" fill="#111" stroke="#111" stroke-width="0.35">3.36 x 3.30</text>
<text x="643.25" y="567.65" font-size="15" text-anchor="middle" font-weight="normal" fill="#111" stroke="#111" stroke-width="0.35">11'0 x 10'10</text>
<text x="502.50" y="566.25" font-size="15" text-anchor="middle" font-weight="normal" fill="#111" stroke="#111" stroke-width="0.35">Bedroom</text>
<text x="502.50" y="584.45" font-size="15" text-anchor="middle" font-weight="normal" fill="#111" stroke="#111" stroke-width="0.35">2.73 x 2.28</text>
<text x="502.50" y="602.65" font-size="15" text-anchor="middle" font-weight="normal" fill="#111" stroke="#111" stroke-width="0.35">8'11 x 7'6</text>
<text x="449.60" y="379.50" font-size="15" text-anchor="middle" font-weight="normal" fill="#111" stroke="#111" stroke-width="0.35">Dn</text>
<text transform="translate(405.6,707.9) scale(1.008,1.043)" font-size="22.6" font-weight="bold" fill="#000" stroke="#000" stroke-width="0.35">First Floor</text>
</g>
<g id="garage">
<path fill="#000" d="M803.20,218.30H985.50V229.75H803.20ZM803.20,218.30H815.00V565.70H803.20ZM975.00,218.30H985.50V565.70H975.00ZM803.20,555.00H825.70V565.70H803.20ZM963.30,555.00H985.50V565.70H963.30Z"/>
<rect x="828.10" y="559.40" width="133.10" height="2.60" fill="#fff" stroke="#555" stroke-width="0.7" rx="0"/>
<polygon points="894.50,229.75 896.80,239.25 892.20,239.25" fill="#000"/>
<line x1="894.50" y1="239.25" x2="894.50" y2="251.75" stroke="#333" stroke-width="0.65"/>
<polygon points="894.40,555.30 892.10,545.80 896.70,545.80" fill="#000"/>
<line x1="894.40" y1="545.80" x2="894.40" y2="533.30" stroke="#333" stroke-width="0.65"/>
<line x1="891.60" y1="555.30" x2="897.20" y2="555.30" stroke="#222" stroke-width="0.7"/>
<polygon points="815.00,392.10 824.50,389.80 824.50,394.40" fill="#000"/>
<line x1="824.50" y1="392.10" x2="837.00" y2="392.10" stroke="#333" stroke-width="0.65"/>
<polygon points="975.00,392.10 965.50,394.40 965.50,389.80" fill="#000"/>
<line x1="965.50" y1="392.10" x2="953.00" y2="392.10" stroke="#333" stroke-width="0.65"/>
<text x="894.40" y="379.60" font-size="15" text-anchor="middle" font-weight="normal" fill="#111" stroke="#111" stroke-width="0.35">Garage</text>
<text x="894.40" y="397.80" font-size="15" text-anchor="middle" font-weight="normal" fill="#111" stroke="#111" stroke-width="0.35">5.99 x 2.97</text>
<text x="894.40" y="416.00" font-size="15" text-anchor="middle" font-weight="normal" fill="#111" stroke="#111" stroke-width="0.35">19'8 x 9'9</text>
<text x="877.50" y="588.80" font-size="15.2" text-anchor="middle" font-weight="normal" fill="#111" stroke="#111" stroke-width="0.35">(Not Shown In Actual</text>
<text x="877.30" y="606.80" font-size="15.2" text-anchor="middle" font-weight="normal" fill="#111" stroke="#111" stroke-width="0.35">Location / Orientation)</text>
</g>
<g id="footer">
<text x="496.30" y="732.30" font-size="13.3" text-anchor="middle" font-weight="normal" fill="#111" stroke="#111" stroke-width="0.2">Illustration for identification purposes only,</text>
<text x="496.30" y="748.10" font-size="13.3" text-anchor="middle" font-weight="normal" fill="#111" stroke="#111" stroke-width="0.2">measurements are approximate, not to scale.</text>
<text x="337.70" y="764.30" font-size="13.3" text-anchor="start" font-weight="normal" fill="#58b6ac" stroke="#58b6ac" stroke-width="0.15">© CJ Property Marketing</text>
<text x="491.00" y="764.30" font-size="13.3" text-anchor="start" font-weight="bold" fill="#000" stroke="#000" stroke-width="0.1">Produced for Cesare &amp; Co</text>
</g>
</svg></body></html>
